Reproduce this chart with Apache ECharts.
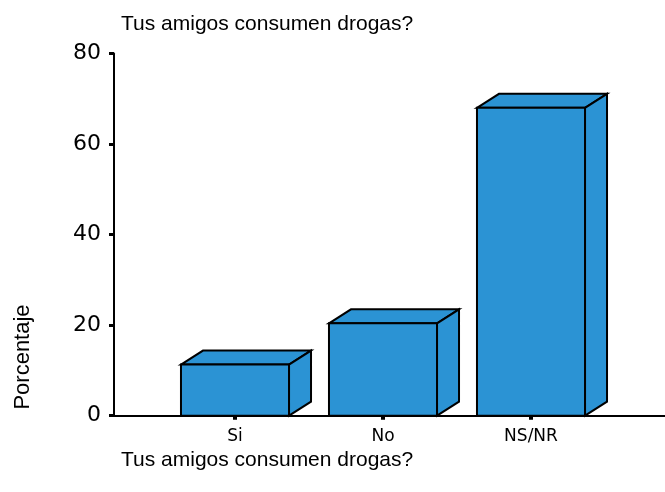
<!DOCTYPE html>
<html>
<head>
<meta charset="utf-8">
<script src="https://cdn.jsdelivr.net/npm/echarts@6/dist/echarts.min.js"></script>
<style>html,body{margin:0;padding:0;background:#fff}#c{width:665px;height:492px}</style>
</head>
<body>
<div id="c"></div>
<script>
const categories = ['Si', 'No', 'NS/NR'];
const percentages = [11.3, 20.4, 68.0];
const yTicks = [0, 20, 40, 60, 80];
const titleText = 'Tus amigos consumen drogas?';
const yName = 'Porcentaje';

const chart = echarts.init(document.getElementById('c'), null, {renderer: 'canvas'});
const faceStyle = {fill: '#2b93d4', stroke: '#000', lineWidth: 2, lineJoin: 'miter'};
const DX = 22, DY = 14;

const option = {
  animation: false,
  backgroundColor: '#fff',
  title: [
    {text: titleText, left: 116, top: 9, textStyle: {fontFamily: 'Liberation Sans', fontSize: 21, fontWeight: 'normal', color: '#000'}},
    {text: titleText, left: 116, top: 445, textStyle: {fontFamily: 'Liberation Sans', fontSize: 21, fontWeight: 'normal', color: '#000'}}
  ],
  graphic: [{
    type: 'text', x: 23, y: 357, rotation: Math.PI / 2,
    style: {text: yName, fontFamily: 'Liberation Sans', fontSize: 22, fill: '#000', align: 'center', verticalAlign: 'middle'}
  }],
  grid: [
    {left: 161, width: 444, top: 53.5, bottom: 76.3, containLabel: false},
    {left: 114, right: 0, top: 53.5, bottom: 76.3, containLabel: false}
  ],
  xAxis: [
    {
      type: 'category', gridIndex: 0, data: categories,
      axisLine: {show: true, lineStyle: {color: '#000', width: 2}},
      axisTick: {show: true, alignWithLabel: true, length: 4, lineStyle: {color: '#000', width: 4}},
      axisLabel: {color: '#000', fontFamily: 'DejaVu Sans', fontSize: 17, margin: 12},
      splitLine: {show: false}
    },
    {
      type: 'value', gridIndex: 1, min: 0, max: 1,
      axisLine: {show: true, onZero: false, lineStyle: {color: '#000', width: 2}},
      axisTick: {show: false}, axisLabel: {show: false}, splitLine: {show: false}
    }
  ],
  yAxis: [
    {
      type: 'value', gridIndex: 0, min: 0, max: 80, interval: 20, offset: 47,
      axisLine: {show: true, lineStyle: {color: '#000', width: 2}},
      axisTick: {show: true, length: 5, lineStyle: {color: '#000', width: 3}},
      axisLabel: {color: '#000', fontFamily: 'DejaVu Sans', fontSize: 22, margin: 13,
        formatter: v => yTicks.includes(v) ? String(v) : ''},
      splitLine: {show: false}
    },
    {
      type: 'value', gridIndex: 1, min: 0, max: 1, show: false
    }
  ],
  series: [{
    type: 'custom',
    xAxisIndex: 0, yAxisIndex: 0,
    data: categories.map((c, i) => [i, percentages[i]]),
    encode: {x: 0, y: 1},
    renderItem: function (params, api) {
      const idx = api.value(0), v = api.value(1);
      const top = api.coord([idx, v]);
      const base = api.coord([idx, 0]);
      const w = api.size([1, 0])[0] * 0.73;
      const l = top[0] - w / 2, r = top[0] + w / 2;
      const t = top[1], b = base[1];
      return {
        type: 'group',
        children: [
          {type: 'polygon', shape: {points: [[l, t], [l + DX, t - DY], [r + DX, t - DY], [r, t]]}, style: faceStyle},
          {type: 'polygon', shape: {points: [[r, t], [r + DX, t - DY], [r + DX, b - DY], [r, b]]}, style: faceStyle},
          {type: 'rect', shape: {x: l, y: t, width: w, height: b - t}, style: faceStyle}
        ]
      };
    }
  }]
};
chart.setOption(option);
</script>
</body>
</html>
